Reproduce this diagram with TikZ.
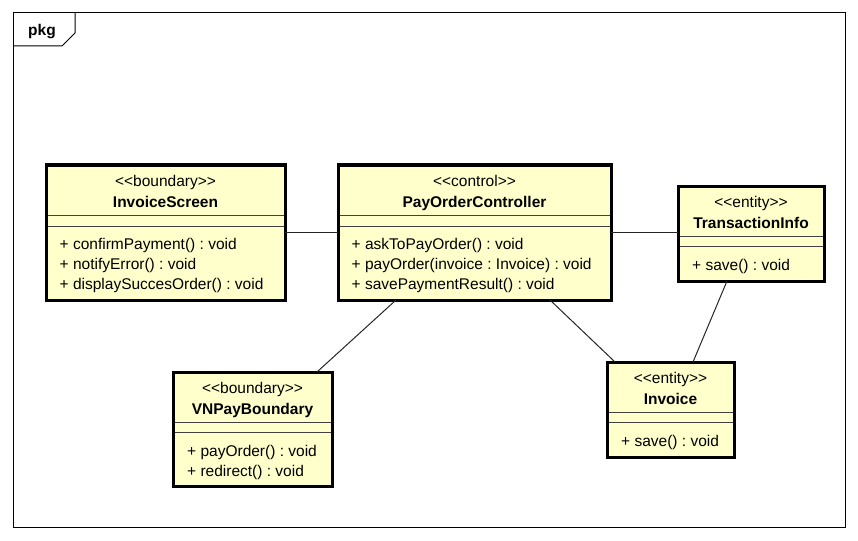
\documentclass[tikz,border=0pt]{standalone}
\usepackage{fontspec}
\setmainfont{Liberation Sans}
\usetikzlibrary{calc}
\definecolor{clsfill}{HTML}{FFFFCC}
\frenchspacing
\tikzset{
  cls/.style={draw=black, line width=3pt, fill=clsfill, inner sep=0pt, outer sep=0pt, anchor=north west},
  sep/.style={draw=black!75, line width=1pt},
  assoc/.style={draw=black!85, line width=1pt},
  stereo/.style={anchor=base, inner sep=0pt, font=\fontsize{15.5}{18}\selectfont\frenchspacing},
  cname/.style={anchor=base, inner sep=0pt, font=\fontsize{15.5}{18}\selectfont\bfseries\frenchspacing},
  meth/.style={anchor=base west, inner sep=0pt, font=\fontsize{15.5}{18}\selectfont\frenchspacing},
  frame/.style={draw=black, line width=1pt}
}
\begin{document}
\begin{tikzpicture}[x=1pt,y=-1pt]
\useasboundingbox (0,0) rectangle (858,540);
% package frame
\draw[frame] (13,13) rectangle (845,527);
\coordinate (tabA) at (13,46);
\coordinate (tabB) at (62,46);
\coordinate (tabC) at (75,33);
\coordinate (tabD) at (75,13);
\draw[frame] (tabA) -- (tabB) -- (tabC) -- (tabD);
\node[anchor=base west, inner sep=0pt, font=\fontsize{15.5}{18}\selectfont\bfseries] (pkg) at (28,36) {pkg};

% InvoiceScreen
\node[cls, minimum width=239pt, minimum height=135pt] (IS) at (46,165) {};
\node[stereo] (ISst) at ([yshift=-21pt]IS.north) {<{}<boundary>{}>};
\node[cname] (ISnm) at ([yshift=-42pt]IS.north) {InvoiceScreen};
\draw[sep] ([xshift=1.5pt,yshift=-50pt]IS.north west) -- ([xshift=-1.5pt,yshift=-50pt]IS.north east);
\draw[sep] ([xshift=1.5pt,yshift=-61pt]IS.north west) -- ([xshift=-1.5pt,yshift=-61pt]IS.north east);
\node[meth] (ISm1) at ([xshift=13.5pt,yshift=-84pt]IS.north west) {+ confirmPayment() : void};
\node[meth] (ISm2) at ([xshift=13.5pt,yshift=-104pt]IS.north west) {+ notifyError() : void};
\node[meth] (ISm3) at ([xshift=13.5pt,yshift=-124pt]IS.north west) {+ displaySuccesOrder() : void};

% PayOrderController
\node[cls, minimum width=273pt, minimum height=135pt] (PC) at (338,165) {};
\node[stereo] (PCst) at ([yshift=-21pt]PC.north) {<{}<control>{}>};
\node[cname] (PCnm) at ([yshift=-42pt]PC.north) {PayOrderController};
\draw[sep] ([xshift=1.5pt,yshift=-50pt]PC.north west) -- ([xshift=-1.5pt,yshift=-50pt]PC.north east);
\draw[sep] ([xshift=1.5pt,yshift=-61pt]PC.north west) -- ([xshift=-1.5pt,yshift=-61pt]PC.north east);
\node[meth] (PCm1) at ([xshift=13.5pt,yshift=-84pt]PC.north west) {+ askToPayOrder() : void};
\node[meth] (PCm2) at ([xshift=13.5pt,yshift=-104pt]PC.north west) {+ payOrder(invoice : Invoice) : void};
\node[meth] (PCm3) at ([xshift=13.5pt,yshift=-124pt]PC.north west) {+ savePaymentResult() : void};

% TransactionInfo
\node[cls, minimum width=146pt, minimum height=95pt] (TI) at (678,186) {};
\node[stereo] (TIst) at ([yshift=-21pt]TI.north) {<{}<entity>{}>};
\node[cname] (TInm) at ([yshift=-42pt]TI.north) {TransactionInfo};
\draw[sep] ([xshift=1.5pt,yshift=-50pt]TI.north west) -- ([xshift=-1.5pt,yshift=-50pt]TI.north east);
\draw[sep] ([xshift=1.5pt,yshift=-60pt]TI.north west) -- ([xshift=-1.5pt,yshift=-60pt]TI.north east);
\node[meth] (TIm1) at ([xshift=14pt,yshift=-84pt]TI.north west) {+ save() : void};

% Invoice
\node[cls, minimum width=127pt, minimum height=95pt] (INV) at (607,362) {};
\node[stereo] (INVst) at ([yshift=-21pt]INV.north) {<{}<entity>{}>};
\node[cname] (INVnm) at ([yshift=-42pt]INV.north) {Invoice};
\draw[sep] ([xshift=1.5pt,yshift=-50pt]INV.north west) -- ([xshift=-1.5pt,yshift=-50pt]INV.north east);
\draw[sep] ([xshift=1.5pt,yshift=-60pt]INV.north west) -- ([xshift=-1.5pt,yshift=-60pt]INV.north east);
\node[meth] (INVm1) at ([xshift=14pt,yshift=-84pt]INV.north west) {+ save() : void};

% VNPayBoundary
\node[cls, minimum width=159pt, minimum height=114pt] (VN) at (173,372) {};
\node[stereo] (VNst) at ([yshift=-21pt]VN.north) {<{}<boundary>{}>};
\node[cname] (VNnm) at ([yshift=-42pt]VN.north) {VNPayBoundary};
\draw[sep] ([xshift=1.5pt,yshift=-50pt]VN.north west) -- ([xshift=-1.5pt,yshift=-50pt]VN.north east);
\draw[sep] ([xshift=1.5pt,yshift=-60pt]VN.north west) -- ([xshift=-1.5pt,yshift=-60pt]VN.north east);
\node[meth] (VNm1) at ([xshift=14pt,yshift=-84pt]VN.north west) {+ payOrder() : void};
\node[meth] (VNm2) at ([xshift=14pt,yshift=-104pt]VN.north west) {+ redirect() : void};

% associations
\draw[assoc] (IS.east) -- (PC.west);
\draw[assoc] (PC.east) -- (PC.east -| TI.west);
\draw[assoc] ([xshift=58pt]PC.south west) -- ([xshift=-15pt]VN.north east);
\draw[assoc] ([xshift=-61pt]PC.south east) -- ([xshift=8pt]INV.north west);
\draw[assoc] ([xshift=49pt]TI.south west) -- ([xshift=86pt]INV.north west);
\end{tikzpicture}
\end{document}
